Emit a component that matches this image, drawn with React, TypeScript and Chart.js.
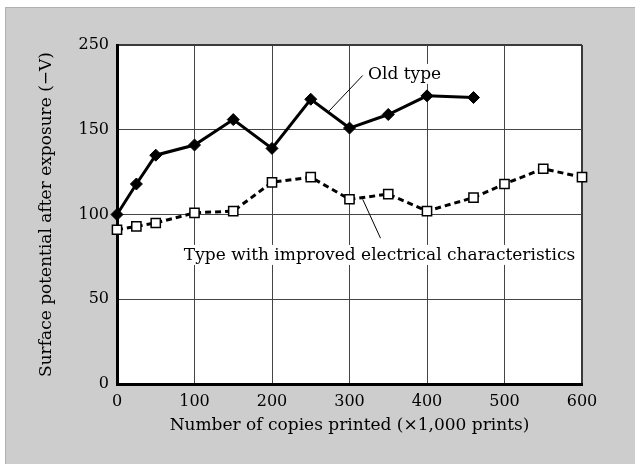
import React, { useEffect, useRef } from "react";
import { Chart, registerables } from "chart.js";

Chart.register(...registerables);

// ---- data ----
const oldX = [0, 25, 50, 100, 150, 200, 250, 300, 350, 400, 460];
const oldY = [100, 118, 135, 141, 156, 139, 168, 151, 159, 170, 169];

const improvedX = [0, 25, 50, 100, 150, 200, 250, 300, 350, 400, 460, 500, 550, 600];
const improvedY = [91, 93, 95, 101, 102, 119, 122, 109, 112, 102, 110, 118, 127, 122];

const yTickValues = [0, 50, 100, 150, 200];
const yTickLabels = ["0", "50", "100", "150", "250"];
const xTickValues = [0, 100, 200, 300, 400, 500, 600];

const xTitle = "Number of copies printed (\u00d71,000 prints)";
const yTitle = "Surface potential after exposure (\u2212V)";

const oldLabel = "Old type";
const oldLabelPos = [324, 180];
const oldLeader = [[273.5, 161], [317, 182]];

const improvedLabel = "Type with improved electrical characteristics";
const improvedLabelPos = [338.7, 73.2];
const improvedLeader = [[317, 109], [340, 86]];

const FONT = "'DejaVu Serif', serif";

const toPoints = (xs: number[], ys: number[]) => xs.map((x, i) => ({ x, y: ys[i] }));

const panelPlugin = {
  id: "panel",
  beforeDraw(chart: any) {
    const { ctx, width, height, chartArea } = chart;
    ctx.save();
    ctx.fillStyle = "#ffffff";
    ctx.fillRect(0, 0, width, height);
    ctx.fillStyle = "#cdcdcd";
    ctx.fillRect(5, 7, width - 5, height - 7);
    ctx.strokeStyle = "#b0b0b0";
    ctx.lineWidth = 1;
    ctx.beginPath();
    ctx.moveTo(5.5, height);
    ctx.lineTo(5.5, 7.5);
    ctx.lineTo(width, 7.5);
    ctx.stroke();
    ctx.fillStyle = "#ffffff";
    ctx.fillRect(chartArea.left, chartArea.top, chartArea.right - chartArea.left, chartArea.bottom - chartArea.top);
    ctx.restore();
  },
};

const labelsPlugin = {
  id: "labels",
  beforeDatasetsDraw(chart: any) {
    const { ctx, scales } = chart;
    const xs = scales.x;
    const ys = scales.y;
    const px = (v: number) => xs.getPixelForValue(v);
    const py = (v: number) => ys.getPixelForValue(v);
    ctx.save();
    ctx.font = `17px ${FONT}`;
    ctx.textBaseline = "alphabetic";

    const drawLabel = (text: string, pos: number[], align: "left" | "center") => {
      const w = ctx.measureText(text).width;
      const x = px(pos[0]);
      const y = py(pos[1]);
      const left = align === "left" ? x : x - w / 2;
      ctx.fillStyle = "#ffffff";
      ctx.fillRect(left - 3, y - 15, w + 6, 20);
      ctx.fillStyle = "#000000";
      ctx.textAlign = align;
      ctx.fillText(text, x, y);
    };
    const drawLeader = (seg: number[][]) => {
      ctx.strokeStyle = "#000000";
      ctx.lineWidth = 1;
      ctx.beginPath();
      ctx.moveTo(px(seg[0][0]), py(seg[0][1]));
      ctx.lineTo(px(seg[1][0]), py(seg[1][1]));
      ctx.stroke();
    };
    drawLabel(oldLabel, oldLabelPos, "left");
    drawLabel(improvedLabel, improvedLabelPos, "center");
    drawLeader(oldLeader);
    drawLeader(improvedLeader);
    ctx.restore();
  },
};

export default function App() {
  const ref = useRef<HTMLCanvasElement | null>(null);

  useEffect(() => {
    if (!ref.current) return;
    const chart = new Chart(ref.current, {
      type: "line",
      data: {
        datasets: [
          {
            label: "Old type",
            data: toPoints(oldX, oldY),
            borderColor: "#000000",
            borderWidth: 3,
            pointStyle: "rectRot",
            pointRadius: 6,
            pointBackgroundColor: "#000000",
            pointBorderColor: "#000000",
            pointBorderWidth: 1,
            clip: false,
            tension: 0,
          },
          {
            label: "Type with improved electrical characteristics",
            data: toPoints(improvedX, improvedY),
            borderColor: "#000000",
            borderWidth: 3,
            borderDash: [6, 4],
            pointStyle: "rect",
            pointRadius: 6.5,
            pointBackgroundColor: "#ffffff",
            pointBorderColor: "#000000",
            pointBorderWidth: 1.5,
            clip: false,
            tension: 0,
          },
        ],
      },
      options: {
        animation: false,
        responsive: false,
        devicePixelRatio: 1,
        layout: { padding: { left: 0, top: 45, right: 53, bottom: 0 } },
        plugins: {
          legend: { display: false },
          tooltip: { enabled: false },
        },
        scales: {
          x: {
            type: "linear",
            min: 0,
            max: 600,
            afterFit(scale: any) {
              scale.height = 80;
            },
            afterBuildTicks(scale: any) {
              scale.ticks = xTickValues.map((v) => ({ value: v }));
            },
            ticks: {
              color: "#000000",
              font: { family: FONT, size: 16 },
              padding: 8,
              maxRotation: 0,
            },
            grid: {
              drawTicks: false,
              color: (c: any) => (c.tick && c.tick.value === 600 ? "#3a3a3a" : "#444444"),
              lineWidth: (c: any) => (c.tick && c.tick.value === 600 ? 2 : 1),
            },
            border: { display: true, color: "#000000", width: 3 },
            title: {
              display: true,
              text: xTitle,
              color: "#000000",
              font: { family: FONT, size: 17 },
              padding: { top: 0, bottom: 27.8 },
            },
          },
          y: {
            type: "linear",
            min: 0,
            max: 200,
            afterFit(scale: any) {
              scale.width = 117;
            },
            afterBuildTicks(scale: any) {
              scale.ticks = yTickValues.map((v) => ({ value: v }));
            },
            ticks: {
              color: "#000000",
              font: { family: FONT, size: 16 },
              padding: 8,
              callback: (_v: any, i: number) => yTickLabels[i],
            },
            grid: {
              drawTicks: false,
              color: (c: any) => (c.tick && c.tick.value === 200 ? "#3a3a3a" : "#444444"),
              lineWidth: (c: any) => (c.tick && c.tick.value === 200 ? 2 : 1),
            },
            border: { display: true, color: "#000000", width: 3 },
            title: {
              display: true,
              text: yTitle,
              color: "#000000",
              font: { family: FONT, size: 17 },
              padding: { top: 36.8, bottom: 0 },
            },
          },
        },
      },
      plugins: [panelPlugin, labelsPlugin],
    });
    return () => chart.destroy();
  }, []);

  return (
    <div style={{ position: "fixed", left: 0, top: 0, width: 635, height: 464, background: "#ffffff" }}>
      <canvas ref={ref} width={635} height={464} style={{ display: "block", width: 635, height: 464 }} />
    </div>
  );
}
